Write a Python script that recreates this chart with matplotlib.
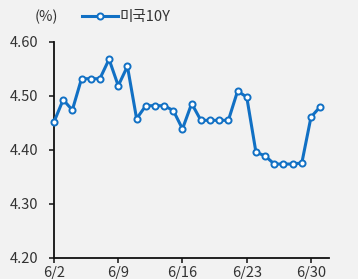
import matplotlib
matplotlib.use("Agg")
import matplotlib.pyplot as plt
from matplotlib.lines import Line2D

plt.rcParams['font.family'] = ['Noto Sans CJK KR', 'DejaVu Sans']

days = list(range(30))  # 6/2 .. 7/1
values = [4.452, 4.493, 4.474, 4.532, 4.532, 4.532, 4.568, 4.519, 4.555, 4.458,
          4.482, 4.482, 4.482, 4.473, 4.439, 4.486, 4.455, 4.455, 4.455, 4.455,
          4.509, 4.498, 4.396, 4.389, 4.374, 4.374, 4.374, 4.376, 4.461, 4.480]
xtick_pos = [0, 7, 14, 21, 28]
xtick_labels = ['6/2', '6/9', '6/16', '6/23', '6/30']
yticks = [4.20, 4.30, 4.40, 4.50, 4.60]
series_name = '미국10Y'

bg = '#f2f2f2'
blue = '#1170c4'
fs = 10.5

fig = plt.figure(figsize=(3.58, 2.79), dpi=100, facecolor=bg)
ax = fig.add_axes([0.1508, 0.0753, 0.7692, 0.7742])
ax.set_facecolor(bg)
ax.plot(days, values, color=blue, lw=2.2, marker='o', ms=4.4, mfc='white',
        mec=blue, mew=1.4, zorder=3, clip_on=False)
ax.set_xlim(0, 30)
ax.set_ylim(4.20, 4.60)
ax.set_yticks(yticks)
ax.set_yticklabels([f'{v:.2f}' for v in yticks])
ax.set_xticks(xtick_pos)
ax.set_xticklabels(xtick_labels)
for s in ['top', 'right']:
    ax.spines[s].set_visible(False)
for s in ['left', 'bottom']:
    ax.spines[s].set_linewidth(1.3)
    ax.spines[s].set_color('#111111')
ax.tick_params(axis='both', length=3.5, width=1.1, colors='#111111', labelsize=fs,
               labelcolor='#333333')
ax.tick_params(axis='y', pad=8)
ax.tick_params(axis='x', pad=2)

fig.text(0.098, 0.94, '(%)', fontsize=fs, color='#333333', ha='left', va='center')
handle = Line2D([0], [0], color=blue, lw=2.2, marker='o', ms=4.4, mfc='white',
                mec=blue, mew=1.4)
fig.legend([handle], [series_name], loc='center left', bbox_to_anchor=(0.229, 0.94),
           frameon=False, fontsize=fs, handlelength=2.45, handletextpad=0.15,
           borderaxespad=0, borderpad=0, labelcolor='#333333')

fig.savefig('out.png', dpi=100, facecolor=bg)
